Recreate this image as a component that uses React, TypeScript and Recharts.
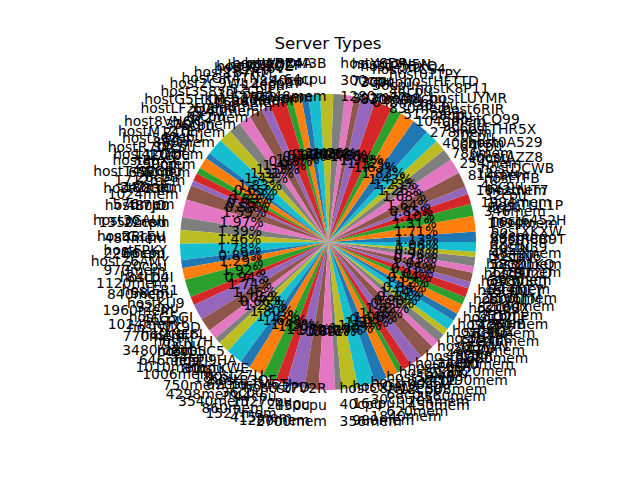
import { Cell, Pie, PieChart } from 'recharts';

const hosts = [
  'host6452H', 'hostTUL1P', 'hostNIT7', 'hostYFB', 'hostDCWB', 'hostAZZ8', 'host0A529', 'hostTHR5X', 'hostCQ99', 'host6RIR',
  'hostLUYMR', 'hostK8P11', 'hostHFTTD', 'host0TTPY', 'host7TCS4', 'hostP5BXQ', 'hostQ2N5N', 'hostY6DP', 'hostDOM3B', 'hostW8R4A',
  'host3K7ZP', 'hostKX2QE', 'hostX2J6V', 'host1B7RM', 'hostGR4TN', 'host2C9WL', 'host3S8YD', 'hostG5HKM', 'hostLF2UA', 'host8VNQC',
  'hostM1ZTE', 'host5QIHJ', 'hostR7DXS', 'host1LQO', 'hostP6XX', 'hostT4WGB', 'hostV83K', 'hostL7JO', 'host3CAUI', 'hostG1EU',
  'hostFPKY', 'hostZ6AMY', 'hostD4I', 'hostER1', 'hostKU9', 'hostG5GI', 'hostWX9D', 'hostNE6L', 'hostN7H', 'hostG5C5',
  'hostJ9HA', 'hostKWE', 'hostZ7U', 'hostB3QF', 'hostM6TJ', 'hostY2PD', 'host7V2R', 'hostC8NW', 'hostQ4LS', 'hostH1XE',
  'hostS9MB', 'host2ZUK', 'hostF6GT', 'hostA3VY', 'host8DKR', 'hostE5WN', 'hostU7PC', 'hostJ4QZ', 'host9RHB', 'hostO2LF',
  'hostI6SX', 'hostV1TM', 'host4NEY', 'hostW3CJ', 'hostB7ZD', 'hostZ1KQ', 'hostIN6', 'hostN39', 'hostR8B9T', 'hostXKXW',
];

const cpus = [
  24, 16, 8, 32, 48, 12, 40, 64, 20, 96,
  28, 36, 18, 44, 56, 300, 72, 300, 64, 40,
  88, 24, 14, 52, 30, 16, 60, 8, 76, 42,
  34, 12, 50, 92, 26, 180, 48, 22, 38, 66,
  20, 84, 58, 32, 46, 10, 70, 28, 54, 80,
  18, 62, 36, 44, 1527, 24, 150, 40, 16, 30,
  68, 12, 90, 26, 52, 34, 48, 20, 74, 56,
  14, 38, 82, 28, 46, 64, 22, 58, 32, 40,
];

const mems = [
  4842, 998, 1094, 346, 1994, 1642, 814, 254, 786, 400,
  278, 1040, 512, 830, 640, 830, 392, 1280, 2048, 760,
  384, 920, 1536, 448, 2240, 672, 3300, 210, 880, 1420,
  290, 656, 1712, 242, 1024, 576, 1350, 484, 220, 970,
  1120, 840, 1960, 1024, 770, 3480, 646, 1010, 1006, 750,
  4298, 3540, 860, 1527, 415, 1280, 2700, 356, 980, 1840,
  620, 1450, 704, 2360, 508, 1190, 3320, 470, 1680, 890,
  2840, 330, 1260, 716, 2100, 1566, 944, 398, 1784, 1230,
];

// share of each server type, in percent
const shares = [
  1.12, 1.69, 1.30, 1.09, 0.84, 1.62, 1.66, 1.25, 1.22, 1.42,
  1.81, 1.61, 1.11, 1.92, 1.58, 0.72, 0.97, 1.25, 1.42, 1.28,
  0.75, 0.97, 0.75, 1.75, 0.97, 1.47, 1.31, 1.31, 1.42, 1.81,
  0.64, 1.21, 0.68, 0.84, 0.57, 1.57, 1.95, 1.38, 1.45, 1.76,
  0.88, 1.28, 1.90, 0.93, 1.72, 1.45, 1.05, 0.65, 1.24, 1.78,
  1.12, 1.66, 1.48, 1.19, 1.95, 1.52, 1.78, 0.70, 1.75, 1.88,
  1.33, 1.30, 0.62, 1.05, 1.35, 1.60, 0.80, 0.97, 0.69, 1.13,
  0.83, 1.11, 0.83, 1.00, 0.74, 1.00, 0.72, 0.97, 0.56, 1.05,
];

const palette = ['#1f77b4', '#ff7f0e', '#2ca02c', '#d62728', '#9467bd', '#8c564b', '#e377c2', '#7f7f7f', '#bcbd22', '#17becf'];

const data = shares.map((v, i) => ({ name: hosts[i], value: v, cpu: cpus[i], mem: mems[i] }));

const FONT = 'DejaVu Sans';
const FS = 13.9;

function renderLabel(props: any) {
  const { cx, cy, midAngle, outerRadius, percent, index } = props;
  const a = (-midAngle * Math.PI) / 180;
  const cos = Math.cos(a);
  const sin = Math.sin(a);
  const px = cx + outerRadius * 0.6 * cos;
  const py = cy + outerRadius * 0.6 * sin;
  const lx = cx + outerRadius * 1.1 * cos;
  const ly = cy + outerRadius * 1.1 * sin;
  const d = data[index];
  const lh = FS * 1.2;
  return (
    <g key={`lbl-${index}`}>
      <text x={lx} y={ly} textAnchor={cos > 0 ? 'start' : 'end'} fontFamily={FONT} fontSize={FS} fill="#000">
        <tspan x={lx} y={ly - lh} dominantBaseline="central">{d.name}</tspan>
        <tspan x={lx} y={ly} dominantBaseline="central">{d.cpu + 'cpu'}</tspan>
        <tspan x={lx} y={ly + lh} dominantBaseline="central">{d.mem + 'mem'}</tspan>
      </text>
      <text x={px} y={py} textAnchor="middle" dominantBaseline="central" fontFamily={FONT} fontSize={FS} fill="#000">
        {(percent * 100).toFixed(2) + '%'}
      </text>
    </g>
  );
}

export default function App() {
  return (
    <div style={{ position: 'absolute', left: 0, top: 0, width: 640, height: 480, background: '#fff' }}>
      <PieChart width={640} height={480} margin={{ top: 0, right: 0, bottom: 0, left: 0 }}>
        <Pie
          data={data}
          dataKey="value"
          nameKey="name"
          cx={328}
          cy={242}
          outerRadius={148}
          innerRadius={0}
          startAngle={0}
          endAngle={360}
          stroke="none"
          labelLine={false}
          label={renderLabel}
          isAnimationActive={false}
        >
          {data.map((_, i) => (
            <Cell key={i} fill={palette[i % 10]} />
          ))}
        </Pie>
      </PieChart>
      <svg width={640} height={480} style={{ position: 'absolute', left: 0, top: 0, pointerEvents: 'none' }}>
        <text x={328} y={49} textAnchor="middle" fontFamily={FONT} fontSize={16.7} fill="#000">Server Types</text>
      </svg>
    </div>
  );
}
